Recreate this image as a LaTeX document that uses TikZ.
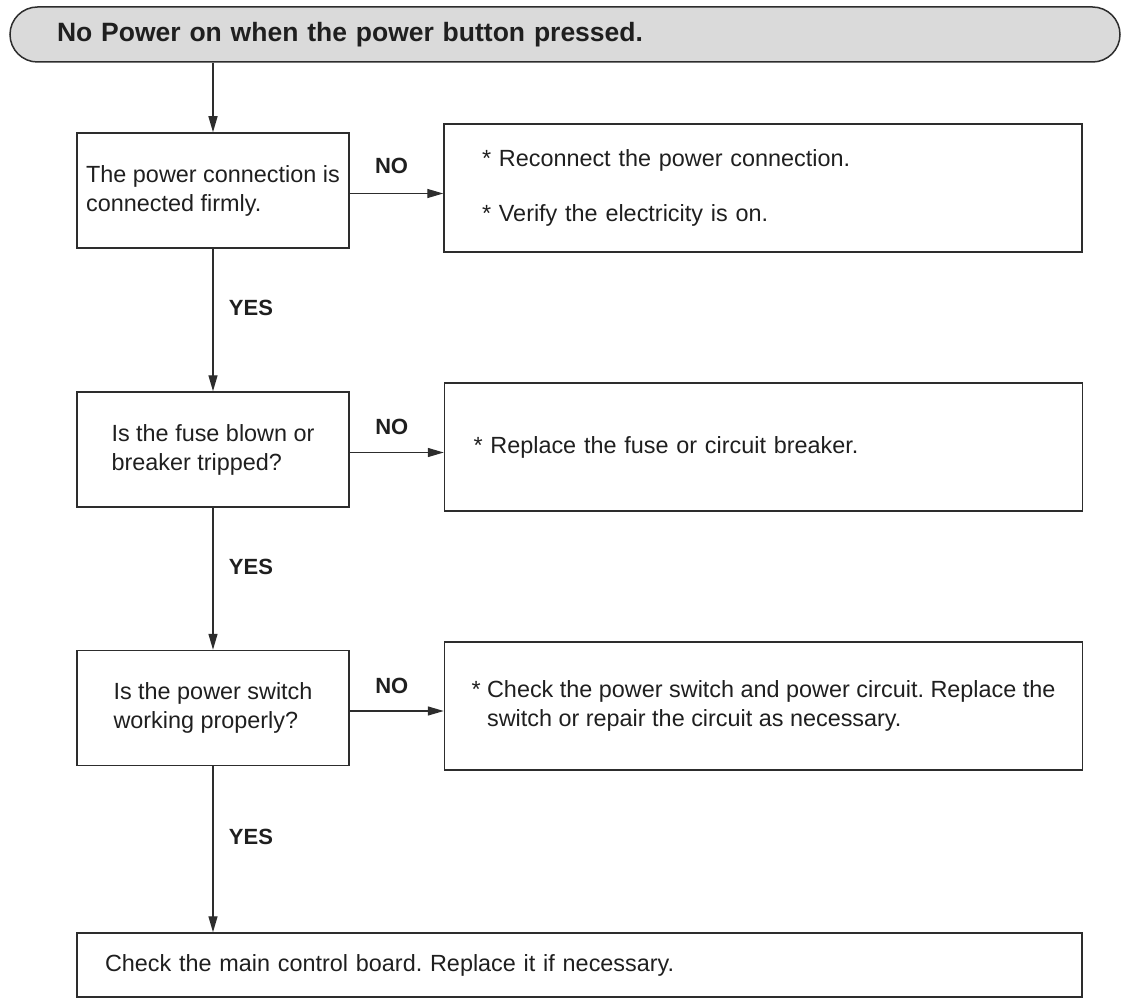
\documentclass[tikz,border=0pt]{standalone}
\usepackage{fontspec}
\setmainfont{Liberation Sans}
\usepackage{xcolor}
\usepackage{tikz}
\usetikzlibrary{arrows.meta,positioning,calc}
\frenchspacing

\definecolor{inkgray}{RGB}{45,45,45}
\definecolor{pillgray}{RGB}{218,218,218}

\begin{document}
\begin{tikzpicture}[x=1pt,y=-1pt,>={Triangle[length=16pt,width=9pt]},
  every node/.style={text=black!88},
  body/.style={font=\fontsize{23.4pt}{29pt}\selectfont},
  headline/.style={draw=inkgray, fill=pillgray, line width=1.5pt, rounded corners=27.5pt,
                   font=\fontsize{26.5pt}{32pt}\selectfont\bfseries, align=left,
                   minimum width=1110pt, minimum height=55pt, inner xsep=47pt, text width=1016pt},
  qbox/.style={body, draw=inkgray, line width=1.5pt, align=left,
               minimum width=272pt, minimum height=115pt, inner sep=0pt},
  fixbox/.style={body, draw=inkgray, line width=1.5pt, align=left,
                 minimum width=638pt, minimum height=128pt, inner ysep=0pt},
  answer/.style={font=\fontsize{22pt}{26pt}\selectfont\bfseries},
  flow/.style={->, draw=inkgray, line width=1.4pt}]

  \useasboundingbox (0,0) rectangle (1123,1000);

  % ── heading ─────────────────────────────────────────────────────────
  \node[headline] (top) at (565,34.5) {No Power on when the power button pressed.};

  % ── the three checks ────────────────────────────────────────────────
  \node[qbox] (q1) at (213,190.5) {The power connection is\\connected firmly.};
  \node[qbox] (q2) at (213,449.5) {Is the fuse blown or\\breaker tripped?};
  \node[qbox] (q3) at (213,708)   {Is the power switch\\working properly?};

  % ── what to do on NO ────────────────────────────────────────────────
  \node[fixbox, inner xsep=38pt, text width=562pt] (fix1) at (763,188)
       {* Reconnect the power connection.\\[26pt]* Verify the electricity is on.};
  \node[fixbox, inner xsep=29pt, text width=580pt] (fix2) at (763.5,447)
       {* Replace the fuse or circuit breaker.};
  \node[fixbox, inner xsep=0pt] (fix3) at (763.5,706)
       {* Check the power switch and power circuit. Replace the\\\hspace*{.667em}switch or repair the circuit as necessary.};

  % ── last resort ─────────────────────────────────────────────────────
  \node[fixbox, minimum width=1005pt, minimum height=64pt, inner xsep=28pt, text width=949pt]
       (board) at (579.5,965) {Check the main control board. Replace it if necessary.};

  % ── connectors ──────────────────────────────────────────────────────
  \draw[flow] (top.south -| q1.north) -- (q1.north);
  \draw[flow] (q1.south) -- node[answer, xshift=38pt, yshift=12pt] {YES} (q2.north);
  \draw[flow] (q2.south) -- node[answer, xshift=38pt, yshift=12pt] {YES} (q3.north);
  \draw[flow] (q3.south) -- node[answer, xshift=38pt, yshift=12pt] {YES} (q3.south |- board.north);

  \draw[flow] ([yshift=-3pt]q1.east) -- node[answer, xshift=-5pt, yshift=28pt] {NO} ([yshift=-3pt]q1.east -| fix1.west);
  \draw[flow] ([yshift=-3pt]q2.east) -- node[answer, xshift=-5pt, yshift=26pt] {NO} ([yshift=-3pt]q2.east -| fix2.west);
  \draw[flow] ([yshift=-3pt]q3.east) -- node[answer, xshift=-5pt, yshift=25pt] {NO} ([yshift=-3pt]q3.east -| fix3.west);

\end{tikzpicture}
\end{document}
